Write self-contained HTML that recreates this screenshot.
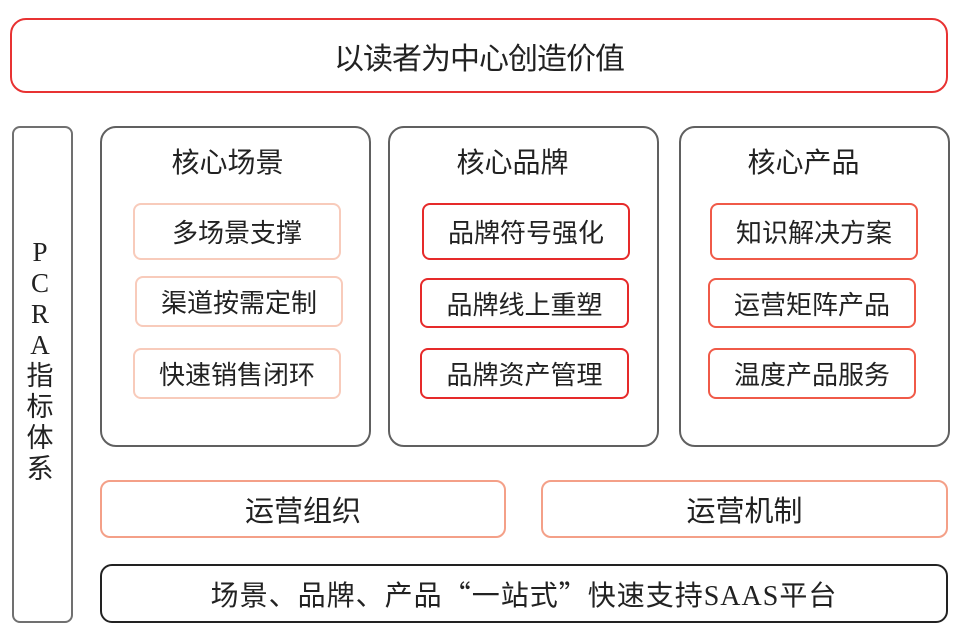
<!DOCTYPE html>
<html><head><meta charset="utf-8"><style>
body{margin:0;width:959px;height:635px;background:#fff;position:relative;overflow:hidden;font-family:"Liberation Serif","Noto Sans CJK SC",sans-serif;color:#222}
.b{position:absolute;box-sizing:border-box;display:flex;align-items:center;justify-content:center;white-space:nowrap;font-family:"Liberation Serif","Noto Sans CJK SC",sans-serif}
.t{position:absolute;white-space:nowrap;font-size:28px;text-align:center}
.i{font-size:26px}
.q{font-family:"Noto Sans CJK SC",sans-serif}
</style></head><body>
<div class="b" style="left:10px;top:18px;width:938px;height:75px;border:2px solid #e83232;border-radius:16px;font-size:30px;letter-spacing:-1px">以读者为中心创造价值</div>
<div class="b" style="left:12px;top:126px;width:61px;height:497px;border:2px solid #707070;border-radius:8px"></div>
<div class="t" style="left:16px;width:48px;top:237px;font-size:27px;line-height:31px">P<br>C<br>R<br>A<br>指<br>标<br>体<br>系</div>

<div class="b" style="left:100px;top:126px;width:271px;height:321px;border:2px solid #606060;border-radius:16px"></div>
<div class="t" style="left:92px;width:271px;top:141px">核心场景</div>
<div class="b i" style="left:133px;top:203px;width:208px;height:57px;border:2px solid #f8cbbb;border-radius:8px">多场景支撑</div>
<div class="b i" style="left:135px;top:276px;width:208px;height:51px;border:2px solid #f8cbbb;border-radius:8px">渠道按需定制</div>
<div class="b i" style="left:133px;top:348px;width:208px;height:51px;border:2px solid #f8cbbb;border-radius:8px">快速销售闭环</div>

<div class="b" style="left:388px;top:126px;width:271px;height:321px;border:2px solid #606060;border-radius:16px"></div>
<div class="t" style="left:377px;width:271px;top:141px">核心品牌</div>
<div class="b i" style="left:422px;top:203px;width:208px;height:57px;border:2px solid #e62a2a;border-radius:8px">品牌符号强化</div>
<div class="b i" style="left:420px;top:278px;width:209px;height:50px;border:2px solid #e62a2a;border-radius:8px">品牌线上重塑</div>
<div class="b i" style="left:420px;top:348px;width:209px;height:51px;border:2px solid #e62a2a;border-radius:8px">品牌资产管理</div>

<div class="b" style="left:679px;top:126px;width:271px;height:321px;border:2px solid #606060;border-radius:16px"></div>
<div class="t" style="left:668px;width:271px;top:141px">核心产品</div>
<div class="b i" style="left:710px;top:203px;width:208px;height:57px;border:2px solid #f05a48;border-radius:8px">知识解决方案</div>
<div class="b i" style="left:708px;top:278px;width:208px;height:50px;border:2px solid #f05a48;border-radius:8px">运营矩阵产品</div>
<div class="b i" style="left:708px;top:348px;width:208px;height:51px;border:2px solid #f05a48;border-radius:8px">温度产品服务</div>

<div class="b" style="left:100px;top:480px;width:406px;height:58px;border:2px solid #f4a088;border-radius:10px;font-size:29px">运营组织</div>
<div class="b" style="left:541px;top:480px;width:407px;height:58px;border:2px solid #f4a088;border-radius:10px;font-size:29px">运营机制</div>
<div class="b" style="left:100px;top:564px;width:848px;height:59px;border:2px solid #222;border-radius:12px;font-size:28px;letter-spacing:1px">场景、品牌、产品<span class="q">“</span>一站式<span class="q">”</span>快速支持SAAS平台</div>
</body></html>
